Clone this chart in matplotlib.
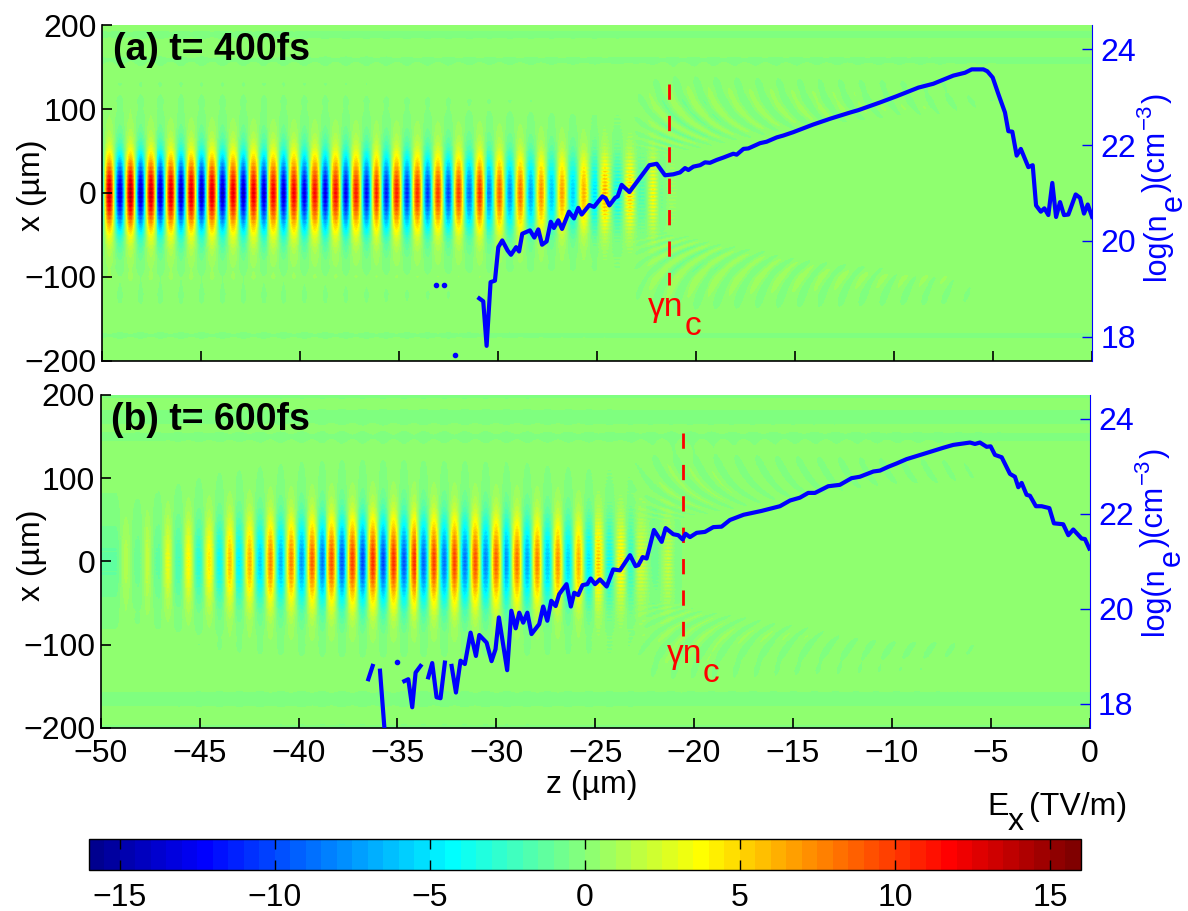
import matplotlib
matplotlib.use("Agg")
import matplotlib.pyplot as plt
import numpy as np
from matplotlib.colors import ListedColormap

plt.rcParams["font.family"] = ["Liberation Sans", "DejaVu Sans"]

W, H = 1188, 911
FS = 23
BLUE = "#0000ff"

# wave crests (z in um, field in TV/m)
crest_z_a = [-49.66, -48.60, -47.58, -46.53, -45.51, -44.47, -43.41, -42.39, -41.35,
             -40.32, -39.27, -38.23, -37.21, -36.16, -35.13, -34.09, -33.06, -32.02,
             -30.97, -29.93, -28.89, -27.84, -26.80, -25.71, -24.61, -23.35, -22.18]
crest_amp_a = [13, 14, 13, 12.5, 12.5, 12.5, 12, 12, 11.5, 11.5, 11, 11, 10.5, 10.5,
               10.5, 10, 9.5, 9.5, 10, 8.5, 8, 7, 6.5, 6, 5.5, 4, 2.5]
trough_amp_a = [13.5, 14, 14, 14, 14, 14, 14, 13.5, 13.5, 13, 13, 12.5, 12, 11.5, 11,
                10.5, 10, 8.5, 8, 7.5, 7, 6, 5.5, 5, 3.5, 1.5]

crest_z_b = [-48.77, -47.67, -46.63, -45.60, -44.56, -43.53, -42.49, -41.45, -40.41,
             -39.36, -38.34, -37.29, -36.27, -35.23, -34.19, -33.16, -32.13, -31.09,
             -30.05, -28.95, -27.94, -26.91, -25.87, -24.83, -23.70, -22.70, -21.35]
crest_amp_b = [1.2, 1.8, 3, 3.8, 4.2, 5.5, 6, 7.5, 7.5, 8.5, 9, 9.5, 10, 10, 10, 9.5,
               9.5, 9, 8.5, 8, 7.5, 7, 6, 5, 3.5, 2, 1.2]
trough_amp_b = [0.8, 1.2, 2, 3, 4, 4.5, 5.5, 6.5, 7.5, 8.5, 9.5, 10, 10, 9.5, 9, 8.5, 8.5,
                8, 7.5, 7, 6, 5.5, 5, 4, 3, 1.2]

# faint horizontal streaks of the background, x = -200 .. 200 every 10 um
bg_a = [0.3, 0.1, 0.2, -0.1, 0.3, 0.1, 0.2, 0.1, 0.1, 0.2, 0.3, 0.1, 0.2, 0.1, 0.2, 0.1,
        0.1, 0.1, 0.1, 0.1, 0.1, 0.1, 0.1, 0.1, 0.1, 0.1, 0.1, 0.1, 0.15, 0.1, 0.2, 0.1,
        0.2, 0.1, 0.2, 0.1, -0.1, 0.3, 0.1, -0.1, 0.2]
bg_b = [-0.1, 0.2, 0.1, -0.1, -0.1, 0.2, 0.1, 0.1, 0.2, 0.1, 0.1, 0.2, 0.1, 0.1, 0.2, 0.1,
        0.1, 0.1, 0.1, 0.1, 0.1, 0.1, 0.1, 0.1, 0.1, 0.1, 0.1, 0.1, 0.1, 0.1, 0.1, 0.1,
        0.1, 0.2, 0.1, -0.1, 0.1, -0.1, -0.1, 0.2, -0.1]

# density profiles, NaN breaks the line
ne_z_a = [-30.96, -30.76, -30.59, -30.39, -30.17, -30.00, -29.80, -29.53, -29.36, -29.10,
          -28.95, -28.79, -28.40, -28.18, -27.98, -27.79, -27.56, -27.35, -27.19, -26.97,
          -26.78, -26.43, -26.18, -25.96, -25.79, -25.40, -25.17, -24.74, -24.58, -24.39,
          -24.10, -23.97, -23.77, -23.38, -22.84, -22.37, -22.00, -21.58, -21.16, -20.82,
          -20.57, -20.40, -20.15, -19.81, -19.56, -19.31, -18.97, -18.63, -18.13, -17.96,
          -17.62, -17.37, -16.78, -16.45, -15.94, -15.60, -15.10, -14.09, -13.24, -12.23,
          -11.81, -10.72, -9.88, -8.78, -8.03, -7.02, -6.43, -6.09, -5.50, -5.30,
          -5.03, -4.74, -4.41, -4.24, -4.04, -3.82, -3.61, -3.23, -3.01, -2.84,
          -2.60, -2.42, -2.22, -2.02, -1.83, -1.63, -1.43, -1.21, -0.84, -0.62,
          -0.42, -0.23, -0.01]
ne_a = [18.80, 18.74, 17.81, 19.14, 19.17, 19.87, 20.01, 19.80, 19.71, 19.87,
        19.78, 20.15, 20.22, 20.07, 20.24, 19.92, 19.99, 20.40, 20.27, 20.43,
        20.25, 20.61, 20.47, 20.69, 20.55, 20.75, 20.71, 20.93, 20.89, 20.74,
        20.90, 20.93, 21.17, 21.02, 21.32, 21.58, 21.61, 21.37, 21.39, 21.43,
        21.52, 21.48, 21.55, 21.58, 21.64, 21.63, 21.69, 21.74, 21.82, 21.80,
        21.92, 21.93, 22.04, 22.07, 22.16, 22.20, 22.27, 22.43, 22.55, 22.68,
        22.73, 22.89, 23.02, 23.20, 23.28, 23.45, 23.51, 23.58, 23.58, 23.54,
        23.41, 23.06, 22.68, 22.29, 22.28, 21.78, 21.92, 21.54, 21.58, 20.74,
        20.61, 20.68, 20.54, 21.21, 20.50, 20.81, 20.54, 20.55, 20.97, 20.90,
        20.57, 20.76, 20.50]
dots_z_a = [-33.16, -32.76, -32.17]
dots_ne_a = [19.07, 19.08, 17.61]

nan = float("nan")
ne_z_b = [-36.47, -36.25, nan, -35.88, -35.66, nan, -34.65, -34.45, -34.25, -34.08, -33.83, nan,
          -33.44, -33.24, -33.02, -32.82, -32.60, nan,
          -32.26, -32.04, -31.81, -31.59, -31.30, -31.03, -30.86, -30.49, -30.24, -30.04,
          -29.87, -29.45, -29.24, -29.02, -28.84, -28.64, -28.43, -28.22, -27.83, -27.63,
          -27.42, -27.22, -27.00, -26.82, -26.45, -26.23, -26.06, -25.86, -25.64, -25.40,
          -25.23, -25.01, -24.76, -24.42, -24.09, -23.75, -23.24, -22.96, -22.82, -22.60,
          -22.40, -22.28, -22.03, -21.64, -21.44, -21.05, -20.80, -20.58, -20.43, -20.21,
          -19.87, -19.45, -19.03, -18.61, -18.19, -17.50, -16.60, -15.66, -15.15, -14.65,
          -14.23, -13.89, -13.22, -12.63, -12.04, -11.62, -10.94, -10.60, -10.18, -9.76,
          -9.26, -8.25, -7.40, -6.90, -6.05, -5.80, -5.55, -5.21, -5.01, -4.79,
          -4.45, -4.03, -3.78, -3.61, -3.44, -3.19, -3.02, -2.72, -2.43, -2.04,
          -1.81, -1.34, -1.08, -0.83, -0.41, -0.24, -0.02]
ne_b = [18.52, 18.80, nan, 18.70, 17.51, nan, 18.48, 18.52, 17.93, 18.66, 18.80, nan,
        18.56, 18.86, 18.14, 18.12, 18.87, nan,
        18.80, 18.24, 18.91, 18.84, 19.50, 19.01, 19.45, 19.29, 18.90, 19.15,
        19.82, 18.71, 19.96, 19.59, 19.92, 19.71, 19.92, 19.47, 19.68, 20.05,
        19.75, 20.17, 20.06, 20.31, 20.52, 20.05, 20.34, 20.29, 20.50, 20.52,
        20.64, 20.52, 20.62, 20.47, 20.83, 20.81, 21.13, 20.90, 20.92, 21.09,
        21.06, 21.25, 21.66, 21.41, 21.70, 21.57, 21.55, 21.46, 21.58, 21.51,
        21.60, 21.62, 21.72, 21.73, 21.87, 21.98, 22.06, 22.16, 22.28, 22.34,
        22.44, 22.44, 22.58, 22.61, 22.75, 22.78, 22.89, 22.91, 22.99, 23.06,
        23.15, 23.28, 23.39, 23.45, 23.50, 23.47, 23.50, 23.41, 23.42, 23.24,
        23.19, 22.84, 22.78, 22.56, 22.65, 22.40, 22.38, 22.16, 22.16, 22.12,
        21.80, 21.78, 21.55, 21.67, 21.48, 21.47, 21.27]
dots_z_b = [-35.04]
dots_ne_b = [18.89]

# critical density marker: z, x from, x to
crit_a = (-21.36, 130, -110)
crit_b = (-20.56, 154, -90)

x_ticks_z = [-50, -45, -40, -35, -30, -25, -20, -15, -10, -5, 0]
y_ticks_x = [-200, -100, 0, 100, 200]
y_ticks_ne = [18, 20, 22, 24]
cbar_ticks = [-15, -10, -5, 0, 5, 10, 15]


def matlab_jet():
    u = np.r_[np.arange(1, 17) / 16, np.ones(15), np.arange(16, 0, -1) / 16]
    rgb = np.zeros((64, 3))
    for k, val in enumerate(u):
        for chan, row in ((0, 24 + k), (1, 8 + k), (2, k - 8)):
            if 0 <= row < 64:
                rgb[row, chan] = val
    return ListedColormap(rgb)


def build_field(crest_z, crest_amp, trough_amp, bg, sigma, fringe_amp):
    z = np.linspace(-50, 0, 1000)
    x = np.linspace(-200, 200, 340)
    crest_z = np.asarray(crest_z)
    trough_z = 0.5 * (crest_z[:-1] + crest_z[1:])

    # nodes at each half cycle, field goes through crest, trough, crest...
    node_z = np.empty(2 * len(crest_z) - 1)
    node_z[0::2] = crest_z
    node_z[1::2] = trough_z
    node_amp = np.empty_like(node_z)
    node_amp[0::2] = crest_amp
    node_amp[1::2] = trough_amp
    phase_nodes = np.arange(len(node_z)) * np.pi
    node_z = np.r_[crest_z[0] - 0.52, node_z, crest_z[-1] + 0.52, crest_z[-1] + 1.04]
    phase_nodes = np.r_[-np.pi, phase_nodes, phase_nodes[-1] + np.pi, phase_nodes[-1] + 2 * np.pi]
    node_amp = np.r_[node_amp[0], node_amp, 0.4, 0]

    phase = np.interp(z, node_z, phase_nodes, right=phase_nodes[-1])
    amp = np.interp(z, node_z, node_amp, right=0)

    Z, X = np.meshgrid(z, x)
    ax_abs = np.abs(X)
    profile = 0.95 * np.exp(-X ** 2 / (2 * sigma ** 2)) + 0.05 * np.exp(-X ** 2 / (2 * 70 ** 2))
    E = (amp * np.cos(phase))[None, :] * profile
    E = E * (1 + 0.05 * np.cos(2 * np.pi * X / 5) * (ax_abs < 35))

    # broken up horizontal streaks where the wave reaches the critical surface
    win = np.interp(Z, [-26, -24, -21.3, -20.6], [0, 1, 1, 0])
    streak = 0.5 + 0.5 * np.cos(2 * np.pi * X / 4.2)
    E = E * (1 + 0.3 * win * np.cos(2 * np.pi * X / 4.2))
    E = E + 0.8 * win * streak * np.exp(-(X / 44) ** 4) * (0.5 + 0.5 * np.cos(2 * np.pi * (Z + 22.2) / 1.04))

    # curved faint fringes of the reflected light
    bend = 6.5 * np.exp(-(ax_abs - 45) / 28)
    fringe_env = np.interp(Z, [-23.5, -21.5, -18, -13, -8, -3.5], [0, 1, 0.8, 0.6, 0.45, 0])
    inner = np.interp(Z, [-22, -16, -10], [42, 70, 88])
    fringe_x = np.clip((ax_abs - inner) / 14, 0, 1) * np.exp(-np.clip(ax_abs - 100, 0, None) ** 2 / (2 * 24 ** 2))
    E = E + fringe_amp * fringe_env * fringe_x * np.cos(2 * np.pi * (Z - bend) / 1.04)

    # background streaks
    E = E + np.interp(x, np.arange(-200, 201, 10), bg)[:, None]
    return E


def px_x(v):
    return v / W


def px_y(v):
    return 1 - v / H


def draw_panel(pos, field, ne_z, ne, dots_z, dots_ne, crit, label, label_xy, gamma_xy, c_xy, cmap):
    left, right, top, bottom = pos
    ax = fig.add_axes([px_x(left), px_y(bottom), (right - left) / W, (bottom - top) / H])
    im = ax.imshow(field, extent=[-50, 0, -200, 200], origin="lower", aspect="auto",
                   cmap=cmap, vmin=-16, vmax=16, interpolation="nearest")
    ax.set_xlim(-50, 0)
    ax.set_ylim(-200, 200)
    ax.set_xticks(x_ticks_z)
    ax.set_yticks(y_ticks_x)
    ax.tick_params(direction="in", length=7, width=1.2, labelsize=FS, pad=4)
    ax.tick_params(axis="x", pad=8)
    for side in ("top", "right"):
        ax.spines[side].set_visible(False)
    for side in ("left", "bottom"):
        ax.spines[side].set_linewidth(1.2)
    ax.plot([crit[0], crit[0]], [crit[1], crit[2]], color="#ff0000", lw=2.0,
            dashes=(5.5, 5.8), zorder=3)

    tw = ax.twinx()
    tw.set_ylim(17.5, 24.5)
    tw.set_yticks(y_ticks_ne)
    tw.tick_params(axis="y", direction="in", length=7, width=1, colors=BLUE, labelsize=FS, pad=6)
    for side in ("left", "top", "bottom"):
        tw.spines[side].set_visible(False)
    tw.spines["right"].set_color(BLUE)
    tw.plot(ne_z, ne, color=BLUE, lw=3, solid_joinstyle="round")
    tw.plot(dots_z, dots_ne, ls="none", marker="o", ms=3, color=BLUE)

    fig.text(px_x(label_xy[0]), px_y(label_xy[1]), label, fontsize=27, fontweight="bold",
             ha="left", va="baseline", zorder=5)
    fig.text(px_x(gamma_xy[0]), px_y(gamma_xy[1]), "\u03b3n", color="#ff0000", fontsize=FS + 1,
             ha="left", va="baseline", zorder=5)
    fig.text(px_x(c_xy[0]), px_y(c_xy[1]), "c", color="#ff0000", fontsize=FS + 1,
             ha="left", va="baseline", zorder=5)
    return ax, im


def upward_text(x, y, s, size=22, color=BLUE):
    fig.text(px_x(x), px_y(y), s, fontsize=size, color=color, rotation=90,
             rotation_mode="anchor", ha="left", va="baseline", zorder=5)


def ne_label(dx, dy):
    upward_text(1165 + dx, 280 + dy, "log(n")
    upward_text(1181.5 + dx, 211 + dy, "e")
    upward_text(1165 + dx, 192 + dy, ")(cm")
    upward_text(1151 + dx, 129 + dy, "\u22123", size=16)
    upward_text(1165 + dx, 103 + dy, ")")


fig = plt.figure(figsize=(W / 100, H / 100), dpi=100)
jet64 = matlab_jet()

field_a = build_field(crest_z_a, crest_amp_a, trough_amp_a, bg_a, 30, 0.75)
field_b = build_field(crest_z_b, crest_amp_b, trough_amp_b, bg_b, 35, 0.5)

ax_a, im_a = draw_panel((102.3, 1092.3, 25.3, 360.7), field_a, ne_z_a, ne_a, dots_z_a, dots_ne_a,
                        crit_a, "(a) t= 400fs", (113, 60), (648, 316), (685, 335), jet64)
ax_a.tick_params(axis="x", labelbottom=False)

ax_b, im_b = draw_panel((100.7, 1089.7, 395, 727.7), field_b, ne_z_b, ne_b, dots_z_b, dots_ne_b,
                        crit_b, "(b) t= 600fs", (111, 430), (667, 663), (703, 682), jet64)

fig.text(px_x(32), px_y(185), "x (\u00b5m)", fontsize=FS, rotation=90, ha="center", va="center")
fig.text(px_x(32), px_y(555), "x (\u00b5m)", fontsize=FS, rotation=90, ha="center", va="center")
fig.text(px_x(592), px_y(793), "z (\u00b5m)", fontsize=FS, ha="center", va="baseline")
ne_label(0, 0)
ne_label(-2, 355)

fig.text(px_x(987), px_y(815), "E", fontsize=FS, ha="left", va="baseline")
fig.text(px_x(1007.5), px_y(830), "x", fontsize=FS, ha="left", va="baseline")
fig.text(px_x(1029), px_y(815), "(TV/m)", fontsize=FS, ha="left", va="baseline")

cax = fig.add_axes([px_x(88.6), px_y(870), (1081 - 88.6) / W, 31 / H])
cb = fig.colorbar(im_a, cax=cax, orientation="horizontal", ticks=cbar_ticks)
cb.outline.set_linewidth(1)
cb.ax.tick_params(axis="x", direction="in", top=True, bottom=True, length=7, width=1,
                  labelsize=FS, pad=9)
cb.ax.minorticks_off()

fig.savefig("out.png", dpi=100)
